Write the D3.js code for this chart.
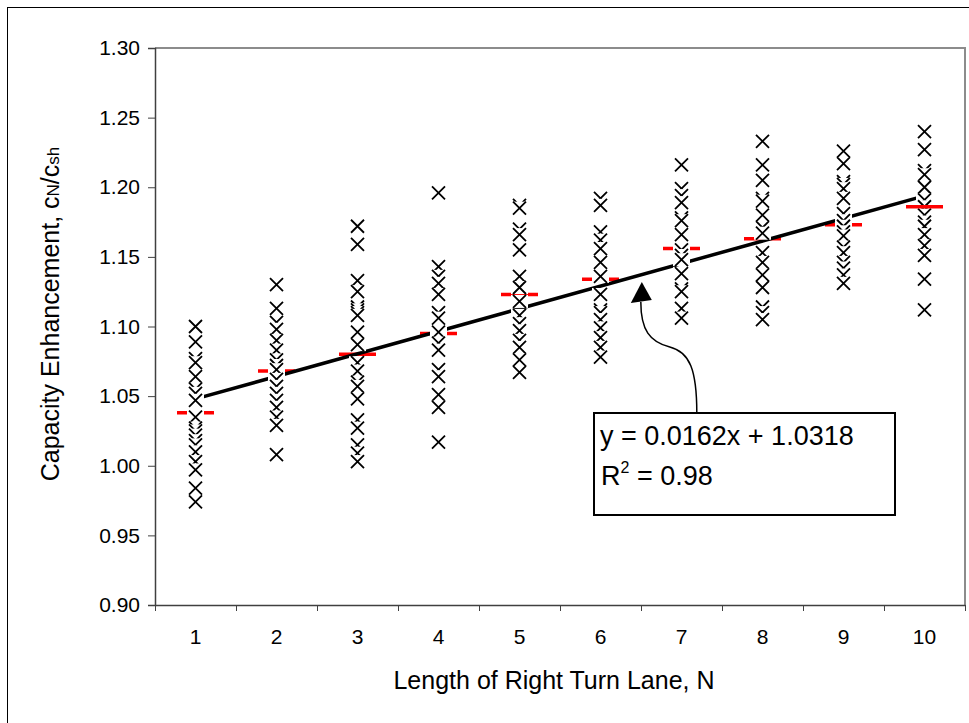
<!DOCTYPE html>
<html>
<head>
<meta charset="utf-8">
<script src="https://cdn.jsdelivr.net/npm/d3@7"></script>
<style>
  body { margin: 0; background: #fff; }
  svg { display: block; font-family: "Liberation Sans", Arial, sans-serif; }
</style>
</head>
<body>
<svg id="chart"></svg>
<script>
const width = 969, height = 723

// lane lengths and the measured capacity enhancement for each one
const lanes = [1, 2, 3, 4, 5, 6, 7, 8, 9, 10]
const obs1 = [1.100, 1.089, 1.077, 1.074, 1.064, 1.055, 1.052, 1.047, 1.035, 1.027, 1.025, 1.022, 1.018, 1.015, 1.010, 1.003, 0.997, 0.984, 0.974]
const obs2 = [1.130, 1.113, 1.103, 1.098, 1.090, 1.083, 1.076, 1.072, 1.069, 1.062, 1.057, 1.052, 1.047, 1.042, 1.035, 1.029, 1.008]
const obs3 = [1.172, 1.159, 1.133, 1.125, 1.114, 1.112, 1.110, 1.108, 1.096, 1.087, 1.074, 1.068, 1.060, 1.057, 1.048, 1.033, 1.027, 1.015, 1.009, 1.003]
const obs4 = [1.196, 1.143, 1.136, 1.131, 1.123, 1.110, 1.106, 1.096, 1.088, 1.083, 1.069, 1.064, 1.051, 1.042, 1.017]
const obs5 = [1.187, 1.185, 1.170, 1.166, 1.155, 1.136, 1.128, 1.118, 1.108, 1.102, 1.097, 1.090, 1.085, 1.076, 1.067]
const obs6 = [1.192, 1.187, 1.168, 1.162, 1.156, 1.146, 1.136, 1.123, 1.112, 1.110, 1.105, 1.099, 1.092, 1.085, 1.078]
const obs7 = [1.216, 1.199, 1.194, 1.189, 1.178, 1.176, 1.166, 1.155, 1.151, 1.148, 1.138, 1.127, 1.125, 1.113, 1.106]
const obs8 = [1.233, 1.216, 1.205, 1.192, 1.190, 1.180, 1.171, 1.167, 1.153, 1.146, 1.137, 1.128, 1.114, 1.110, 1.105]
const obs9 = [1.226, 1.217, 1.204, 1.202, 1.199, 1.192, 1.181, 1.176, 1.172, 1.168, 1.165, 1.157, 1.153, 1.146, 1.142, 1.137, 1.131]
const obs10 = [1.240, 1.227, 1.212, 1.209, 1.200, 1.191, 1.186, 1.180, 1.175, 1.172, 1.166, 1.158, 1.151, 1.134, 1.112]
const means = [1.038, 1.068, 1.080, 1.095, 1.123, 1.134, 1.156, 1.163, 1.173, 1.186]
const yTicks = [0.90, 0.95, 1.00, 1.05, 1.10, 1.15, 1.20, 1.25, 1.30]
const slope = 0.0162, intercept = 1.0318
const fitText = 'y = 0.0162x + 1.0318'
const r2Text = '0.98'
// where the arrow points (data units)
const arrowTip = [6.51, 1.132]

const observations = [obs1, obs2, obs3, obs4, obs5, obs6, obs7, obs8, obs9, obs10]

const svg = d3.select('#chart').attr('width', width).attr('height', height)

let plotL = 155, plotR = 965, plotT = 48, plotB = 605
let x = d3.scaleLinear().domain([0.5, 10.5]).range([plotL, plotR])
let y = d3.scaleLinear().domain([0.9, 1.3]).range([plotB, plotT])

// outer chart frame (only left/top fall in the window)
svg.append('rect')
  .attr('x', 7.5).attr('y', 7.5)
  .attr('width', 1100).attr('height', 1100)
  .attr('fill', 'none').attr('stroke', '#000').attr('stroke-width', 1)

// plot area border top / right
svg.append('path')
  .attr('d', `M${plotL},${plotT}H${plotR}V${plotB}`)
  .attr('fill', 'none').attr('stroke', '#8c8c8c').attr('stroke-width', 2)

// y axis
let yAxis = svg.append('g')
  .attr('transform', `translate(${plotL},0)`)
  .call(d3.axisLeft(y).tickValues(yTicks).tickFormat(d3.format('.2f')).tickSize(7).tickPadding(8))
yAxis.select('.domain').attr('stroke', '#404040').attr('stroke-width', 1.5)
yAxis.selectAll('.tick line').attr('stroke', '#404040')
yAxis.selectAll('.tick text').attr('font-size', 21).attr('fill', '#000').attr('font-family', 'Liberation Sans, Arial, sans-serif')

// x axis: ticks between categories, labels at centres
let bounds = lanes.map(d => d - 0.5).concat([lanes[lanes.length - 1] + 0.5])
let xAxis = svg.append('g')
  .attr('transform', `translate(0,${plotB})`)
  .call(d3.axisBottom(x).tickValues(bounds).tickFormat('').tickSize(6).tickSizeOuter(0))
xAxis.select('.domain').attr('stroke', '#404040').attr('stroke-width', 1.5)
xAxis.selectAll('.tick line').attr('stroke', '#404040')

svg.append('g').selectAll('text').data(lanes).join('text')
  .attr('x', d => x(d)).attr('y', 644)
  .attr('text-anchor', 'middle').attr('font-size', 21)
  .text(d => d)

svg.append('text')
  .attr('x', (plotL + plotR) / 2 - 6).attr('y', 689)
  .attr('text-anchor', 'middle').attr('font-size', 25)
  .text('Length of Right Turn Lane, N')

let yLab = svg.append('text')
  .attr('transform', 'translate(59,314) rotate(-90)')
  .attr('text-anchor', 'middle').attr('font-size', 25)
yLab.append('tspan').text('Capacity Enhancement, c')
yLab.append('tspan').attr('font-size', 17).text('N')
yLab.append('tspan').text('/c')
yLab.append('tspan').attr('font-size', 17).text('sh')

// mean markers (red dash), except the last which sits on top
const dashW = 37
function drawMean(g, d, i) {
  g.append('line')
    .attr('x1', x(lanes[i]) - dashW / 2).attr('x2', x(lanes[i]) + dashW / 2)
    .attr('y1', y(d)).attr('y2', y(d))
    .attr('stroke', '#ff0000').attr('stroke-width', 3.5)
}
let meanLayer = svg.append('g')
means.forEach((d, i) => { if (i < means.length - 1) drawMean(meanLayer, d, i) })

// regression line
svg.append('line')
  .attr('x1', x(lanes[0])).attr('y1', y(slope * lanes[0] + intercept))
  .attr('x2', x(lanes[lanes.length - 1])).attr('y2', y(slope * lanes[lanes.length - 1] + intercept))
  .attr('stroke', '#000').attr('stroke-width', 3.5)

// observations as X markers with white background
const half = 6.5
let pts = []
observations.forEach((col, i) => col.forEach(v => pts.push({ lane: lanes[i], v: v })))
let marks = svg.append('g').selectAll('g').data(pts).join('g')
  .attr('transform', d => `translate(${x(d.lane)},${y(d.v)})`)
marks.append('rect')
  .attr('x', -8.5).attr('y', -6.5).attr('width', 17).attr('height', 13)
  .attr('fill', '#fff')
marks.append('path')
  .attr('d', `M${-half},${-half}L${half},${half}M${-half},${half}L${half},${-half}`)
  .attr('stroke', '#000').attr('stroke-width', 1.8).attr('fill', 'none')

drawMean(svg.append('g'), means[means.length - 1], means.length - 1)

// annotation: arrow and equation box
let tx = x(arrowTip[0]), ty = y(arrowTip[1])
svg.append('path')
  .attr('d', `M${tx + 55},${ty + 131} C${tx + 55},${ty + 88} ${tx + 48},${ty + 70} ${tx + 28},${ty + 65} C${tx + 8},${ty + 60} ${tx - 1},${ty + 48} ${tx - 1},${ty + 20}`)
  .attr('fill', 'none').attr('stroke', '#000').attr('stroke-width', 1.5)
svg.append('path')
  .attr('d', `M${tx},${ty} L${tx - 11},${ty + 21} L${tx + 10},${ty + 18} Z`)
  .attr('fill', '#000')

let bx = 594, by = 413
svg.append('rect')
  .attr('x', bx).attr('y', by).attr('width', 301).attr('height', 102)
  .attr('fill', '#fff').attr('stroke', '#000').attr('stroke-width', 2)
svg.append('text')
  .attr('x', bx + 6).attr('y', by + 32).attr('font-size', 27)
  .text(fitText)
let r2 = svg.append('text')
  .attr('x', bx + 7).attr('y', by + 72).attr('font-size', 27)
r2.append('tspan').text('R')
r2.append('tspan').attr('font-size', 16).attr('dy', -12).text('2')
r2.append('tspan').attr('dy', 12).text(' = ' + r2Text)
</script>
</body>
</html>
